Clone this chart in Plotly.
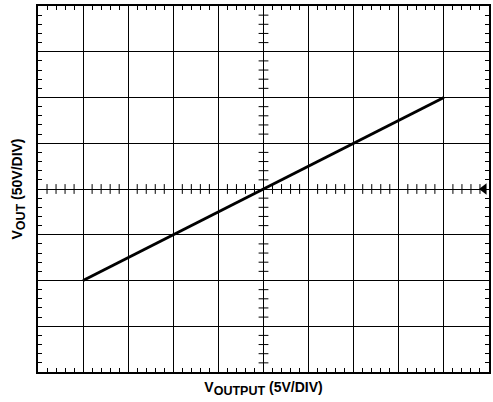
import plotly.graph_objects as go

# Transfer characteristic: output voltage (V) vs. input drive (V)
v_output = [-20, 20]          # horizontal, 5 V/div
v_out = [-100, 100]           # vertical, 50 V/div

x_range = [-25, 25]
y_range = [-200, 200]
x_div, y_div = 5, 50
x_minor, y_minor = 1, 10

fig = go.Figure()

# graticule ticks along the centre axes
cx = [i * x_minor for i in range(-25, 26) if i % 5]
cy = [j * y_minor for j in range(-20, 21) if j % 5]
fig.add_trace(go.Scatter(
    x=cx, y=[0] * len(cx), mode="markers",
    marker=dict(symbol="line-ns-open", size=7, color="black",
                line=dict(color="black", width=1)),
    hoverinfo="skip", showlegend=False))
fig.add_trace(go.Scatter(
    x=[0] * len(cy), y=cy, mode="markers",
    marker=dict(symbol="line-ew-open", size=7, color="black",
                line=dict(color="black", width=1)),
    hoverinfo="skip", showlegend=False))

# trace
fig.add_trace(go.Scatter(
    x=v_output, y=v_out, mode="lines",
    line=dict(color="black", width=3),
    showlegend=False))

# ground reference marker
fig.add_trace(go.Scatter(
    x=[24.45], y=[0], mode="markers", cliponaxis=False,
    marker=dict(symbol="triangle-left", size=10, color="black"),
    hoverinfo="skip", showlegend=False))

font = dict(family="Liberation Sans, Arial, sans-serif", size=14, color="black")


def title(main, sub, rest):
    return (f"<b>{main}<sub><span style='font-size:12.5px'>{sub}</span></sub>"
            f" {rest}</b>")


fig.update_layout(
    width=493, height=402,
    margin=dict(l=38, r=2, t=6, b=30),
    paper_bgcolor="white", plot_bgcolor="white",
    font=font,
    xaxis=dict(
        range=x_range, dtick=x_div, tick0=0,
        showgrid=True, gridcolor="black", gridwidth=1,
        zeroline=False, showticklabels=False,
        showline=True, linecolor="black", linewidth=2, mirror="allticks",
        ticks="inside", ticklen=4, tickcolor="black", tickwidth=1,
        minor=dict(dtick=x_minor, ticks="inside", ticklen=4,
                   tickcolor="black", tickwidth=1, showgrid=False),
        title=dict(text=title("V", "OUTPUT", "(5V/DIV)"), standoff=9, font=font),
        fixedrange=True,
    ),
    yaxis=dict(
        range=y_range, dtick=y_div, tick0=0,
        showgrid=True, gridcolor="black", gridwidth=1,
        zeroline=False, showticklabels=False,
        showline=True, linecolor="black", linewidth=2, mirror="allticks",
        ticks="inside", ticklen=4, tickcolor="black", tickwidth=1,
        minor=dict(dtick=y_minor, ticks="inside", ticklen=4,
                   tickcolor="black", tickwidth=1, showgrid=False),
        title=dict(text=title("V", "OUT", "(50V/DIV)"), standoff=10, font=font),
        fixedrange=True,
    ),
)

fig.write_html("out.html")
